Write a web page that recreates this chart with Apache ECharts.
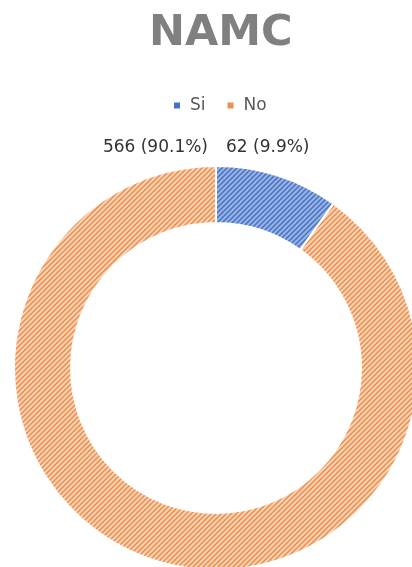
<!DOCTYPE html>
<html>
<head>
<meta charset="utf-8">
<script src="https://cdn.jsdelivr.net/npm/echarts@6/dist/echarts.min.js"></script>
<style>
  html, body { margin: 0; padding: 0; background: #ffffff; }
  #chart { width: 412px; height: 567px; }
</style>
</head>
<body>
<div id="chart"></div>
<script>
// Survey answers for NAMC
const chartTitle = 'NAMC';
const categories = ['Si', 'No'];
const values = [62, 566];

// Diagonal hatch tile used as a fill pattern
function hatch(bg, line, size, width) {
  const c = document.createElement('canvas');
  c.width = size; c.height = size;
  const ctx = c.getContext('2d');
  ctx.fillStyle = bg;
  ctx.fillRect(0, 0, size, size);
  ctx.strokeStyle = line;
  ctx.lineWidth = width;
  ctx.beginPath();
  ctx.moveTo(-1, size + 1); ctx.lineTo(size + 1, -1);
  ctx.moveTo(-size / 2 - 1, size / 2 + 1); ctx.lineTo(size / 2 + 1, -size / 2 - 1);
  ctx.moveTo(size / 2 - 1, size * 1.5 + 1); ctx.lineTo(size * 1.5 + 1, size / 2 - 1);
  ctx.stroke();
  return { image: c, repeat: 'repeat' };
}

const solid = ['#4472C4', '#ED8F4E'];
const fills = [
  hatch('#9AB3E2', '#4472C4', 5, 1.5),
  hatch('#FBD3B4', '#EB8A46', 5, 1.4)
];

const font = '"DejaVu Sans", sans-serif';

const chart = echarts.init(document.getElementById('chart'), null, { renderer: 'canvas' });
chart.setOption({
  backgroundColor: '#ffffff',
  animation: false,
  title: {
    text: chartTitle,
    left: 144,
    top: 7,
    textStyle: { fontFamily: font, fontSize: 43, fontWeight: 'bold', color: '#808080' }
  },
  legend: {
    data: categories.map((name, i) => ({ name: name, itemStyle: { color: solid[i] } })),
    left: 172,
    top: 97,
    padding: 0,
    itemWidth: 8,
    itemHeight: 8,
    itemGap: 20,
    icon: 'rect',
    textStyle: { fontFamily: font, fontSize: 17, color: '#595959', padding: [0, 0, 0, 4] }
  },
  series: [{
    type: 'pie',
    center: [216, 368],
    radius: [145, 202],
    startAngle: 90,
    clockwise: true,
    avoidLabelOverlap: false,
    percentPrecision: 1,
    itemStyle: { borderColor: '#ffffff', borderWidth: 2 },
    label: {
      show: true,
      position: 'outside',
      formatter: '{c} ({d}%)',
      fontFamily: font,
      fontSize: 17,
      color: '#333333'
    },
    labelLine: { show: false },
    labelLayout: function (p) {
      return p.dataIndex === 0
        ? { x: 226, y: 148, align: 'left', verticalAlign: 'middle' }
        : { x: 208, y: 148, align: 'right', verticalAlign: 'middle' };
    },
    data: categories.map((name, i) => ({
      name: name,
      value: values[i],
      itemStyle: { color: fills[i] }
    }))
  }]
});
</script>
</body>
</html>
